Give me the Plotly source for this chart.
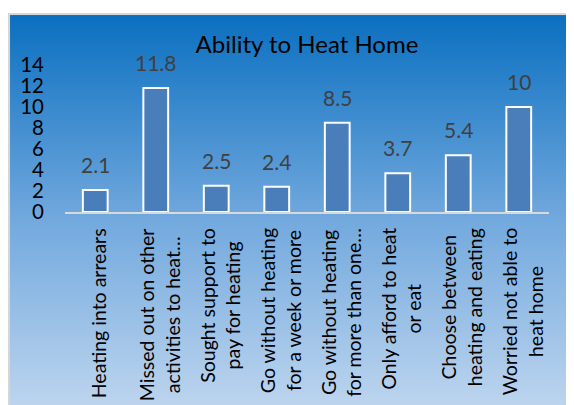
import base64
import plotly.graph_objects as go

categories = [
    "Heating into arrears",
    "Missed out on other<br>activities to heat…",
    "Sought support to<br>pay for heating",
    "Go without heating<br>for a week or more",
    "Go without heating<br>for more than one…",
    "Only afford to heat<br>or eat",
    "Choose between<br>heating and eating",
    "Worried not able to<br>heat home",
]
values = [2.1, 11.8, 2.5, 2.4, 8.5, 3.7, 5.4, 10]
value_labels = ["2.1", "11.8", "2.5", "2.4", "8.5", "3.7", "5.4", "10"]
y_ticks = [0, 2, 4, 6, 8, 10, 12, 14]

FONT = "Lato"
# page body has an 8px margin, so the figure is laid out 8px up/left
W, H = 566, 397
L, R, T, B = 57, 25, 57, 193
pw, ph = W - L - R, H - T - B
zero_y = H - B  # pixel row of y=0

svg = f'''<svg xmlns="http://www.w3.org/2000/svg" width="572" height="397" viewBox="0 0 572 397" preserveAspectRatio="none">
<defs><linearGradient id="g" x1="0" y1="0" x2="0" y2="1">
<stop offset="0" stop-color="#0a6fc0"/>
<stop offset="0.5" stop-color="#74aade"/>
<stop offset="1" stop-color="#c8dbf1"/>
</linearGradient></defs>
<rect x="1" y="1" width="580" height="410" fill="url(#g)" stroke="#d6d6d6" stroke-width="2"/>
</svg>'''
src = "data:image/svg+xml;base64," + base64.b64encode(svg.encode()).decode()

xs = list(range(len(categories)))

fig = go.Figure()
fig.add_trace(go.Bar(
    x=xs, y=values,
    marker=dict(color="#4a7ebb", line=dict(color="white", width=2)),
    hoverinfo="skip",
))

annotations = []
for x, v, lab in zip(xs, values, value_labels):
    annotations.append(dict(
        x=x, y=v, xref="x", yref="y", text=lab, showarrow=False,
        yanchor="bottom", yshift=11,
        font=dict(family=FONT, size=21, color="#404040"),
    ))
for x, c in zip(xs, categories):
    annotations.append(dict(
        x=x, y=-14 / ph, xref="x", yref="paper", text=c, showarrow=False,
        textangle=-90, yanchor="top", xanchor="center", align="center", xshift=3,
        font=dict(family=FONT, size=19.5, color="black"),
    ))

fig.update_layout(
    width=W, height=H,
    margin=dict(l=L, r=R, t=T, b=B, pad=0),
    paper_bgcolor="white",
    plot_bgcolor="rgba(0,0,0,0)",
    showlegend=False,
    bargap=0.59,
    title=dict(text="Ability to Heat Home", x=(L + pw / 2) / W, xanchor="center",
               y=1 - 37 / H, yanchor="middle", yref="container",
               font=dict(family=FONT, size=24, color="black")),
    xaxis=dict(range=[-0.5, len(categories) - 0.5], showticklabels=False,
               showgrid=False, zeroline=False, showline=True,
               linecolor="#d9d9d9", linewidth=2, ticks=""),
    yaxis=dict(range=[0, 14], tickvals=y_ticks, ticktext=[str(t) for t in y_ticks],
               showgrid=False, zeroline=False, showline=False, ticks="",
               ticklabelstandoff=20,
               tickfont=dict(family=FONT, size=20.5, color="black")),
    annotations=annotations,
    images=[dict(source=src, xref="paper", yref="paper",
                 x=(0 - L) / pw, y=(zero_y - 5) / ph,
                 sizex=(582 - 0) / pw, sizey=(412 - 5) / ph,
                 xanchor="left", yanchor="top", sizing="stretch", layer="below")],
)

fig.write_html("out.html")
